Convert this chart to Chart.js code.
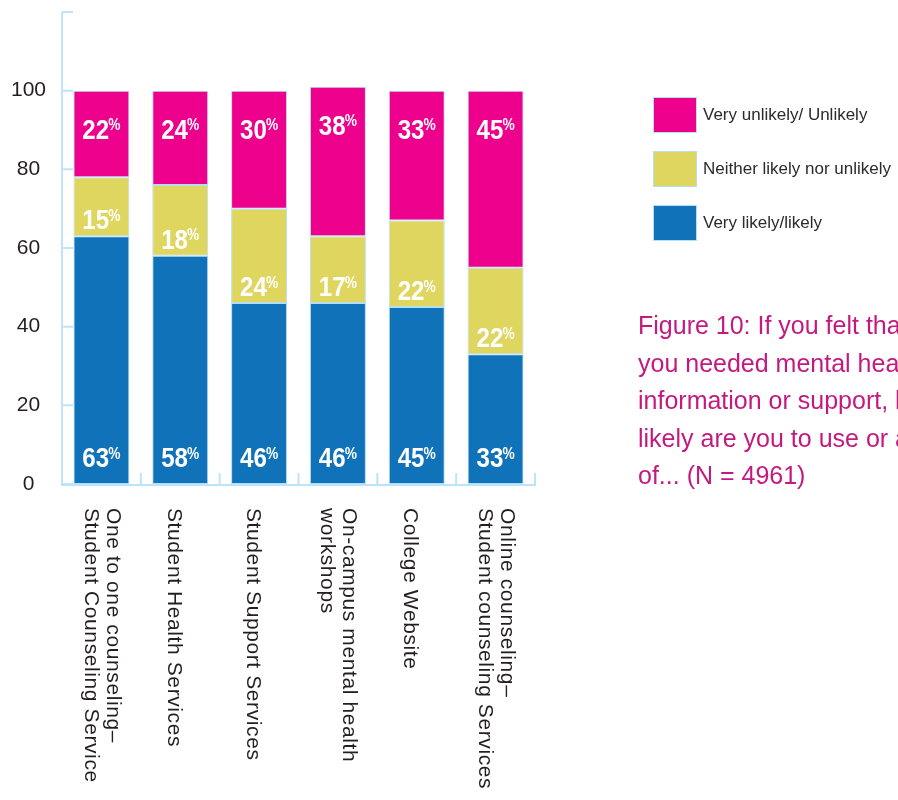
<!DOCTYPE html>
<html>
<head>
<meta charset="utf-8">
<script src="https://cdn.jsdelivr.net/npm/chart.js@4.4.1/dist/chart.umd.min.js"></script>
<style>
  html, body { margin: 0; padding: 0; background: #fff; }
</style>
</head>
<body>
<canvas id="chart" width="898" height="800"></canvas>
<script>
// chart data
const categories = [
  ["One to one counseling–", "Student Counseling Service"],
  ["Student Health Services"],
  ["Student Support Services"],
  ["On-campus mental health", "workshops"],
  ["College Website"],
  ["Online counseling–", "Student counseling Services"],
];
const veryLikely = [63, 58, 46, 46, 45, 33];
const neither = [15, 18, 24, 17, 22, 22];
const unlikely = [22, 24, 30, 38, 33, 45];
const seriesNames = ["Very likely/likely", "Neither likely nor unlikely", "Very unlikely/ Unlikely"];
const yTicks = [0, 20, 40, 60, 80, 100];
const titleLines = [
  "Figure 10: If you felt that",
  "you needed mental health",
  "information or support, how",
  "likely are you to use or avail",
  "of... (N = 4961)",
];

const colors = ["#1072b9", "#dfd65f", "#ec008c"];
const axisColor = "#bde4f8";
const barBorder = "#b3def4";

// axes, labels, legend and caption drawn on top of the bars
const decor = {
  id: "decor",
  afterDraw(chart) {
    const { ctx, chartArea: a, scales: { x, y } } = chart;
    const n = categories.length;
    const catW = (a.right - a.left) / n;
    ctx.save();

    // axis lines with inward ticks
    ctx.strokeStyle = axisColor;
    ctx.lineWidth = 2;
    ctx.beginPath();
    ctx.moveTo(a.left, y.getPixelForValue(y.max));
    ctx.lineTo(a.left, a.bottom + 1);
    ctx.lineTo(a.right + 1, a.bottom + 1);
    y.ticks.forEach((t) => {
      const py = y.getPixelForValue(t.value);
      ctx.moveTo(a.left, py);
      ctx.lineTo(a.left + 11, py);
    });
    for (let i = 0; i < n; i++) {
      const px = x.getPixelForValue(i) + catW / 2;
      ctx.moveTo(px, a.bottom + 1);
      ctx.lineTo(px, a.bottom - 11);
    }
    ctx.stroke();

    // value labels inside the segments
    ctx.fillStyle = "#fff";
    ctx.textAlign = "left";
    ctx.textBaseline = "alphabetic";
    chart.data.datasets.forEach((ds, d) => {
      chart.getDatasetMeta(d).data.forEach((bar, i) => {
        let baseline;
        if (d === 0) baseline = bar.base - 17;
        else if (d === 1) baseline = bar.base - 7;
        else baseline = bar.y + 48;
        const num = String(ds.data[i]);
        ctx.save();
        ctx.translate(bar.x, baseline);
        ctx.scale(0.86, 1);
        ctx.font = 'bold 28px "Liberation Sans", Arial, sans-serif';
        const nw = ctx.measureText(num).width;
        ctx.font = 'bold 16px "Liberation Sans", Arial, sans-serif';
        const pw = ctx.measureText("%").width;
        const start = -(nw + pw - 1) / 2;
        ctx.font = 'bold 28px "Liberation Sans", Arial, sans-serif';
        ctx.fillText(num, start, 0);
        ctx.font = 'bold 16px "Liberation Sans", Arial, sans-serif';
        ctx.fillText("%", start + nw - 1, -8.5);
        ctx.restore();
      });
    });

    // category labels, rotated clockwise
    ctx.fillStyle = "#231f20";
    ctx.font = '21px "Liberation Sans", Arial, sans-serif';
    ctx.letterSpacing = "0.6px";
    categories.forEach((lines, i) => {
      const cx = x.getPixelForValue(i);
      const offs = lines.length === 1 ? [12.5] : [-5.5, 16.5];
      ctx.save();
      ctx.translate(cx, 508);
      ctx.rotate(Math.PI / 2);
      lines.forEach((line, k) => ctx.fillText(line, 0, offs[k]));
      ctx.restore();
    });
    ctx.letterSpacing = "0px";

    // legend
    const order = [2, 1, 0];
    ctx.font = '17px "Liberation Sans", Arial, sans-serif';
    ctx.textBaseline = "middle";
    order.forEach((d, k) => {
      const top = 97 + k * 54;
      ctx.fillStyle = colors[d];
      ctx.fillRect(653, top, 44, 36);
      ctx.strokeStyle = barBorder;
      ctx.lineWidth = 1;
      ctx.strokeRect(653.5, top + 0.5, 43, 35);
      ctx.fillStyle = "#2b2b2b";
      ctx.fillText(seriesNames[d], 703, top + 18.5);
    });

    // caption
    ctx.fillStyle = "#c41a80";
    ctx.font = '25px "Liberation Sans", Arial, sans-serif';
    ctx.textBaseline = "alphabetic";
    titleLines.forEach((line, k) => ctx.fillText(line, 638, 334 + k * 37.5));

    ctx.restore();
  },
};

new Chart(document.getElementById("chart"), {
  type: "bar",
  data: {
    labels: categories,
    datasets: [veryLikely, neither, unlikely].map((vals, d) => ({
      label: seriesNames[d],
      data: vals,
      backgroundColor: colors[d],
      borderColor: barBorder,
      borderWidth: 1,
      borderSkipped: false,
      barPercentage: 0.71,
      categoryPercentage: 1.0,
    })),
  },
  options: {
    responsive: false,
    animation: false,
    devicePixelRatio: 1,
    layout: { padding: { top: 12, right: 363, left: 0, bottom: 0 } },
    plugins: {
      legend: { display: false },
      tooltip: { enabled: false },
    },
    scales: {
      x: {
        stacked: true,
        grid: { display: false },
        border: { display: false },
        ticks: { display: false },
        afterFit: (s) => { s.height = 316; },
      },
      y: {
        stacked: true,
        min: 0,
        max: 120,
        grid: { display: false },
        border: { display: false },
        ticks: {
          stepSize: 20,
          padding: 8,
          crossAlign: "center",
          color: "#231f20",
          font: { family: '"Liberation Sans", Arial, sans-serif', size: 21 },
          callback: (v) => (yTicks.includes(v) ? v : ""),
        },
        afterFit: (s) => {
          s.width = 62;
          s.paddingTop = 0;
          s.paddingBottom = 0;
        },
      },
    },
  },
  plugins: [decor],
});
</script>
</body>
</html>
